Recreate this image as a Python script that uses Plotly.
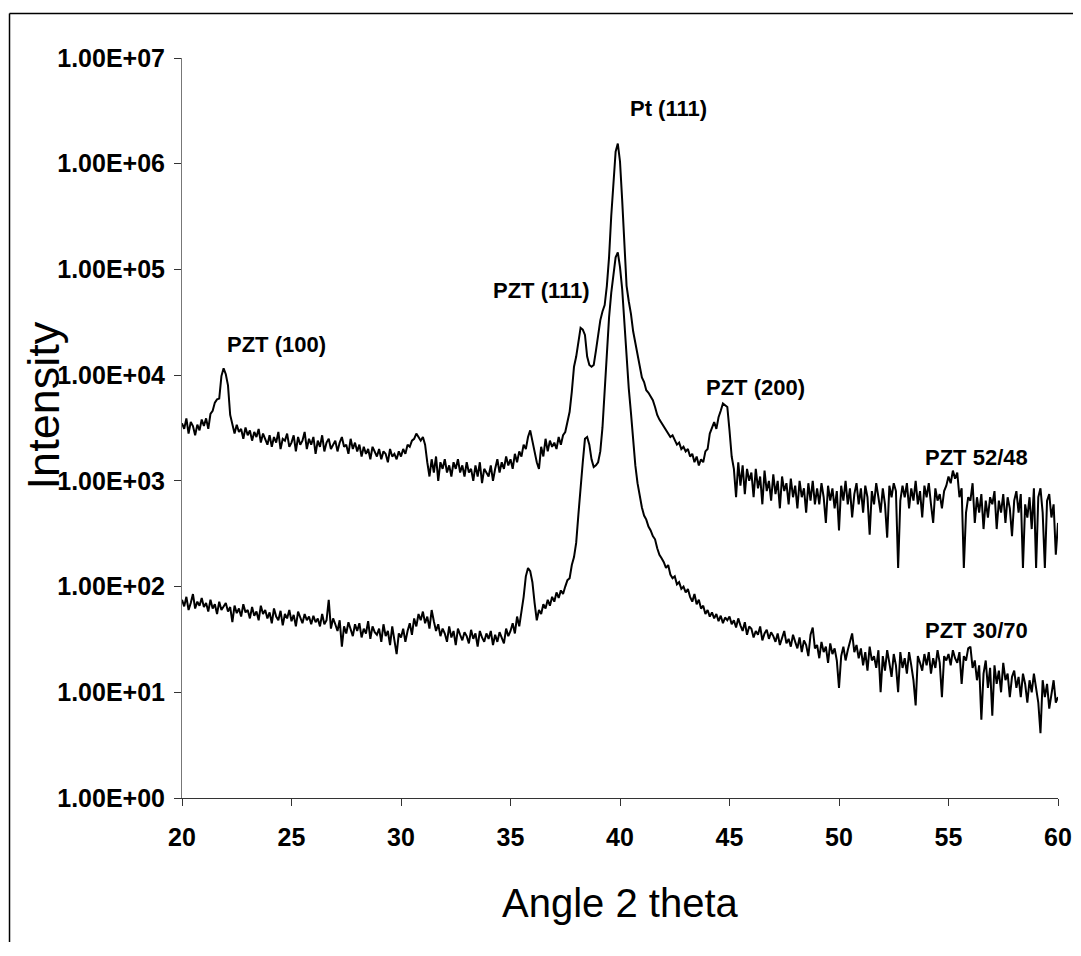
import numpy as np
import plotly.graph_objects as go

# scan: 2-theta from 20 to 60 deg, step 0.1 deg
two_theta = np.round(20 + 0.1 * np.arange(401), 1)

x_ticks = [20, 25, 30, 35, 40, 45, 50, 55, 60]
y_ticks = [1, 10, 100, 1000, 10000, 100000, 1000000, 10000000]
y_tick_text = ["1.00E+00", "1.00E+01", "1.00E+02", "1.00E+03",
               "1.00E+04", "1.00E+05", "1.00E+06", "1.00E+07"]

# PZT 52/48 intensities, one row per degree
pzt_52_48 = [
    3500, 3100, 3900, 2800, 3600, 3300, 2700, 3400, 3000, 3800,
    3300, 3900, 3100, 4300, 4600, 5500, 5900, 6000, 9800, 11600,
    10200, 8000, 4200, 3300, 2800, 3400, 2900, 3100, 2500, 3200,
    2700, 3000, 2400, 2900, 2600, 3100, 2300, 2800, 2500, 2200,
    2700, 2100, 2600, 2300, 2900, 2000, 2500, 2400, 2800, 2100,
    2300, 2700, 1900, 2600, 2200, 2400, 2900, 2000, 2500, 2200,
    2600, 1800, 2400, 2100, 2700, 1900, 2300, 2500, 2000, 2200,
    2400, 1900, 2300, 2600, 2100, 2200, 1800, 2500, 2000, 2300,
    1900, 2200, 1700, 2100, 1800, 2000, 1600, 2100, 1900, 1700,
    2000, 1600, 1900, 1800, 1500, 2000, 1700, 1800, 1600, 1900,
    1700, 2000, 1800, 2200, 2100, 2400, 2500, 2800, 2600, 2400,
    2600, 2200, 1500, 1100, 1600, 1200, 1700, 1000, 1500, 1300,
    1600, 1200, 1400, 1100, 1500, 1300, 1600, 1200, 1400, 1100,
    1500, 1200, 1300, 1000, 1400, 1100, 1500, 950, 1300, 1200,
    1100, 1400, 1000, 1300, 1600, 1200, 1500, 1300, 1700, 1400,
    1600, 1300, 1800, 1500, 1900, 1700, 2200, 2000, 2600, 3000,
    2400, 2000, 1500, 1300, 2100, 1700, 2500, 1900, 2400, 2100,
    2300, 2000, 2600, 2200, 2700, 2900, 3600, 4500, 7000, 12000,
    15000, 21000, 28000, 27000, 24000, 15000, 12500, 12000, 12500, 17000,
    25000, 33000, 40000, 46000, 70000, 130000, 320000, 650000, 1300000, 1550000,
    1050000, 450000, 150000, 70000, 50000, 38000, 26000, 20000, 15000, 12000,
    9500, 8600, 7200, 6800, 6300, 5800, 5000, 4200, 3800, 3500,
    3300, 3000, 2800, 2600, 2700, 2400, 2200, 2300, 2000, 2100,
    1900, 2000, 1700, 1800, 1500, 1700, 1400, 1600, 1500, 1900,
    2000, 2800, 3200, 3600, 3100, 4000, 4600, 5400, 5200, 5000,
    3000, 1700, 1300, 700, 1500, 900, 1400, 750, 1300, 1000,
    1200, 700, 1300, 850, 1100, 600, 1250, 800, 1000, 650,
    1150, 750, 1000, 550, 1100, 800, 950, 600, 1050, 700,
    900, 550, 1000, 700, 850, 500, 950, 650, 1000, 600,
    850, 600, 950, 700, 400, 900, 650, 850, 550, 800,
    340, 900, 650, 1000, 600, 850, 450, 750, 950, 600,
    850, 500, 900, 700, 310, 800, 600, 950, 700, 500,
    850, 600, 290, 900, 700, 950, 800, 150, 650, 900,
    700, 950, 550, 850, 650, 1000, 600, 800, 450, 900,
    700, 950, 600, 400, 850, 650, 750, 550, 800, 900,
    1100, 950, 1250, 1050, 1200, 700, 850, 150, 500, 700,
    650, 950, 400, 700, 500, 750, 350, 650, 450, 700,
    600, 800, 350, 650, 500, 750, 400, 700, 550, 300,
    650, 800, 500, 750, 150, 600, 450, 700, 350, 850,
    150, 700, 850, 500, 150, 650, 750, 450, 600, 200,
    400,
]

# PZT 30/70 intensities, one row per degree
pzt_30_70 = [
    75, 65, 80, 60, 70, 85, 62, 72, 66, 78,
    64, 70, 58, 75, 62, 68, 55, 72, 60, 66,
    70, 58, 64, 46, 66, 56, 62, 52, 68, 57,
    60, 50, 64, 53, 58, 48, 66, 55, 60, 50,
    57, 45, 62, 52, 48, 59, 43, 55, 50, 60,
    47, 54, 42, 58, 50, 45, 55, 48, 52, 44,
    53, 46, 50, 42, 55, 44, 48, 75, 40, 50,
    44, 38, 48, 27, 42, 36, 46, 40, 34, 44,
    38, 45, 33, 40, 36, 47, 32, 42, 37, 35,
    40, 30, 44, 34, 38, 28, 42, 31, 23, 36,
    33, 40, 30, 38, 45, 35, 50, 42, 55, 48,
    58, 45, 52, 40, 60, 47, 38, 44, 34, 40,
    36, 30, 42, 33, 38, 28, 40, 35, 31, 37,
    34, 29, 39, 32, 36, 27, 38, 33, 30, 36,
    32, 38, 28, 35, 30, 37, 33, 29, 40, 34,
    38, 45, 36, 52, 42, 58, 80, 125, 150, 140,
    110, 70, 48, 60, 55, 68, 62, 75, 66, 80,
    72, 88, 78, 92, 85, 100, 115, 120, 160, 190,
    260, 480, 900, 1500, 2500, 2600, 2200, 1600, 1350, 1400,
    1500, 1900, 3200, 7000, 18000, 35000, 60000, 92000, 130000, 145000,
    105000, 65000, 30000, 14000, 7500, 4400, 2450, 1400, 950, 720,
    560, 470, 430, 370, 340, 300, 280, 230, 200, 185,
    170, 150, 160, 130, 120, 125, 105, 110, 95, 100,
    88, 95, 80, 72, 85, 68, 75, 62, 66, 55,
    60, 52, 57, 50, 55, 47, 53, 45, 51, 48,
    52, 44, 48, 41, 50, 43, 38, 46, 35, 42,
    40, 33, 38, 35, 42, 31, 36, 39, 32, 37,
    34, 30, 36, 28, 33, 38, 29, 32, 27, 35,
    30, 26, 33, 24, 31, 28, 22, 35, 41, 26,
    28, 21, 30, 24, 27, 19, 29, 23, 26, 20,
    11, 22, 27, 20, 25, 30, 36, 24, 28, 21,
    26, 18, 24, 16, 27, 20, 22, 17, 25, 10,
    22, 16, 25, 19, 14, 23, 18, 10, 24, 17,
    21, 15, 24, 18, 13, 7.5, 22, 19, 16, 23,
    18, 24, 15, 21, 17, 25, 19, 9, 22, 20,
    23, 18, 25, 21, 19, 24, 12, 22, 20, 26,
    27, 17, 20, 13, 18, 5.5, 15, 20, 11, 17,
    6, 18, 12, 16, 10, 19, 13, 15, 9, 14,
    16, 11, 14, 9, 15, 12, 8, 13, 10, 15,
    11, 8, 4.1, 13, 9, 12, 7, 10, 13, 8,
    9,
]

# peak labels: (text, 2-theta, intensity)
label_text = ["PZT (100)", "PZT (111)", "Pt (111)", "PZT (200)", "PZT 52/48", "PZT 30/70"]
label_x = [24.3, 36.4, 42.2, 46.2, 56.3, 56.3]
label_y = [19300, 62600, 3.3e6, 7570, 1650, 38]

FONT = "Liberation Sans, Arial, sans-serif"

fig = go.Figure()
for series in (pzt_52_48, pzt_30_70):
    fig.add_trace(go.Scatter(
        x=two_theta, y=series, mode="lines",
        line=dict(color="black", width=2),
        showlegend=False, hoverinfo="skip",
    ))

for t, xv, yv in zip(label_text, label_x, label_y):
    fig.add_annotation(
        x=xv, y=np.log10(yv), xref="x", yref="y", text=t, showarrow=False,
        font=dict(family=FONT, size=22, color="black", weight="bold"),
        xanchor="center", yanchor="middle",
    )

# axis titles
fig.add_annotation(
    x=0.5, y=-0.142, xref="paper", yref="paper", text="Angle 2 theta",
    showarrow=False, font=dict(family=FONT, size=40, color="black"),
    xanchor="center", yanchor="middle",
)
fig.add_annotation(
    x=-0.158, y=0.53, xref="paper", yref="paper", text="Intensity",
    showarrow=False, textangle=-90, font=dict(family=FONT, size=45, color="black"),
    xanchor="center", yanchor="middle",
)

# outer frame: left and top edges only (others fall outside the picture)
frame = dict(color="black", width=1.5)
fig.add_shape(type="line", xref="paper", yref="paper",
              x0=-0.1969, x1=-0.1969, y0=-0.2, y1=1.0601, line=frame)
fig.add_shape(type="line", xref="paper", yref="paper",
              x0=-0.1969, x1=1.02, y0=1.0601, y1=1.0601, line=frame)

tickfont = dict(family=FONT, size=25, color="black", weight="bold")
fig.update_layout(
    template="none",
    width=1065, height=934,
    margin=dict(l=174, r=15, t=50, b=144, pad=0, autoexpand=False),
    paper_bgcolor="white", plot_bgcolor="white",
    showlegend=False,
    xaxis=dict(
        range=[20, 60], tickvals=x_ticks, ticks="outside", ticklen=7,
        tickcolor="#333", tickwidth=1, showline=True, linecolor="#333",
        linewidth=1, showgrid=False, zeroline=False, tickfont=tickfont,
        ticklabelstandoff=10, automargin=False,
    ),
    yaxis=dict(
        type="log", range=[0, 7], tickvals=y_ticks, ticktext=y_tick_text,
        ticks="outside", ticklen=7, tickcolor="#333", tickwidth=1,
        showline=True, linecolor="#777", linewidth=1, showgrid=False,
        zeroline=False, tickfont=tickfont, ticklabelstandoff=4,
        automargin=False,
    ),
)

fig.write_html("out.html")
